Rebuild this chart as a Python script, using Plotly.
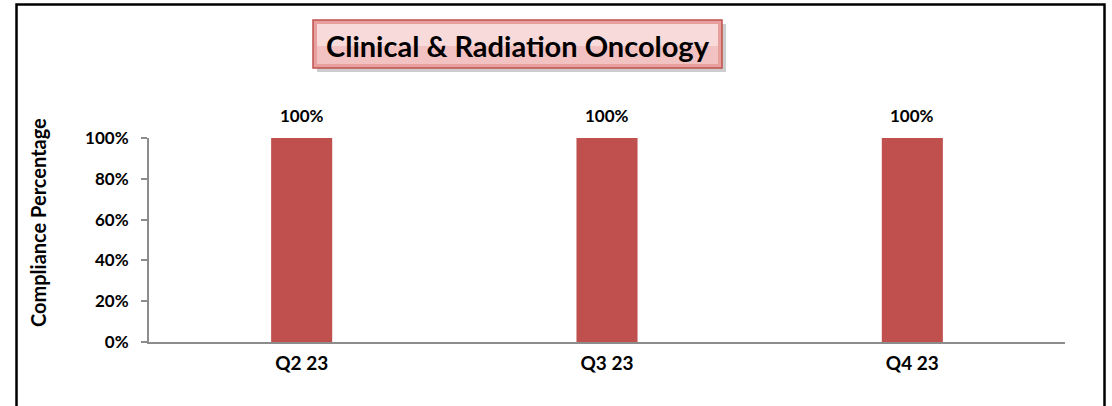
import plotly.graph_objects as go

# chart data
quarters = ["Q2 23", "Q3 23", "Q4 23"]
compliance = [1.0, 1.0, 1.0]
bar_labels = ["100%", "100%", "100%"]
y_ticks = [0, 0.2, 0.4, 0.6, 0.8, 1.0]
y_tick_labels = ["0%", "20%", "40%", "60%", "80%", "100%"]

W, H = 1112, 406
L, R, T, B = 149, 1065, 138, 342


def px_x(x):
    return (x - L) / (R - L)


def px_y(y):
    return (B - y) / (B - T)


font = "Lato, 'Open Sans', sans-serif"

fig = go.Figure(go.Bar(
    x=quarters,
    y=compliance,
    marker=dict(color="#C0504D", line=dict(width=0)),
    hoverinfo="skip",
))

shapes = [
    # outer chart border
    dict(type="rect", xref="paper", yref="paper",
         x0=px_x(16.5), x1=px_x(1104.5), y0=px_y(420), y1=px_y(4.5),
         line=dict(color="black", width=2.5), fillcolor="rgba(0,0,0,0)", layer="below"),
    # title box shadow
    dict(type="rect", xref="paper", yref="paper",
         x0=px_x(317), x1=px_x(726), y0=px_y(72), y1=px_y(24),
         line=dict(width=0), fillcolor="rgba(130,130,130,0.4)", layer="above"),
    # title box
    dict(type="rect", xref="paper", yref="paper",
         x0=px_x(313), x1=px_x(722), y0=px_y(68), y1=px_y(20),
         line=dict(color="#C0504D", width=1.5), fillcolor="#E8A09F", layer="above"),
    dict(type="rect", xref="paper", yref="paper",
         x0=px_x(317), x1=px_x(718), y0=px_y(64), y1=px_y(24),
         line=dict(width=0), fillcolor="#F2C2C2", layer="above"),
    dict(type="rect", xref="paper", yref="paper",
         x0=px_x(317), x1=px_x(718), y0=px_y(46), y1=px_y(24),
         line=dict(width=0), fillcolor="#F8DADA", layer="above"),
]

annotations = [
    dict(text="<b>Clinical & Radiation Oncology</b>",
         xref="paper", yref="paper", x=px_x(518), y=px_y(45),
         xanchor="center", yanchor="middle", showarrow=False,
         font=dict(size=29, color="black", family=font)),
    # y axis title, placed like Excel does (centred a bit above the plot middle)
    dict(text="<b>Compliance Percentage</b>",
         xref="paper", yref="paper", x=px_x(38), y=px_y(223),
         xanchor="center", yanchor="middle", showarrow=False, textangle=-90,
         font=dict(size=20, color="black", family=font)),
]
for q, v, lab in zip(quarters, compliance, bar_labels):
    annotations.append(dict(
        x=q, y=v, text="<b>%s</b>" % lab, showarrow=False,
        yanchor="middle", yshift=23,
        font=dict(size=17, color="black", family=font),
    ))

fig.update_layout(
    width=W, height=H,
    margin=dict(l=L, r=W - R, t=T, b=H - B),
    plot_bgcolor="white",
    paper_bgcolor="white",
    bargap=0.8,
    showlegend=False,
    shapes=shapes,
    annotations=annotations,
    font=dict(family=font, color="black"),
)

fig.update_xaxes(
    showline=True, linecolor="#8C8C8C", linewidth=2,
    ticks="", showgrid=False,
    tickfont=dict(size=19, color="black", family=font),
    tickprefix="<b>", ticksuffix="</b>",
    ticklabelstandoff=3,
)
fig.update_yaxes(
    range=[0, 1], tickvals=y_ticks,
    ticktext=["<b>%s</b>" % t for t in y_tick_labels],
    showline=True, linecolor="#8C8C8C", linewidth=2,
    ticks="outside", ticklen=6, tickcolor="#8C8C8C", tickwidth=1.5,
    showgrid=False, zeroline=False,
    tickfont=dict(size=17, color="black", family=font),
    ticklabelstandoff=9,
)

fig.write_html("out.html", config={"displayModeBar": False},
               post_script="document.body.style.margin='0';")
